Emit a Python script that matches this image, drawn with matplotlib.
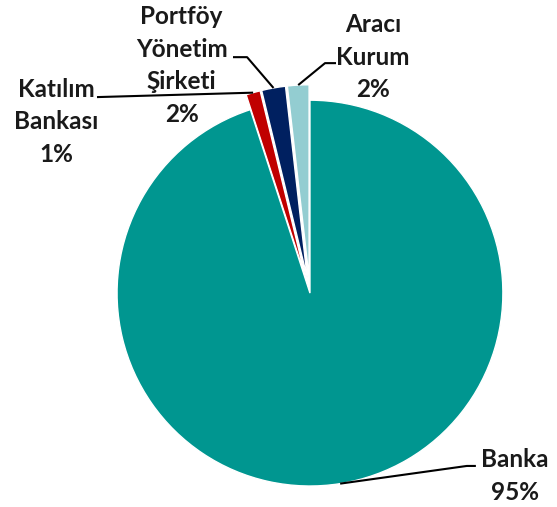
import matplotlib
matplotlib.use("Agg")
import matplotlib.pyplot as plt
import numpy as np

# pay dagilimi
labels = ["Aracı\nKurum", "Portföy\nYönetim\nŞirketi", "Katılım\nBankası", "Banka"]
values = [1.8, 2.0, 1.2, 95.0]
pct_text = ["2%", "2%", "1%", "95%"]
colors = ["#93CDD1", "#002060", "#C00000", "#009690"]
explode = [0.08, 0.08, 0.08, 0.0]

# etiket yerleri (veri koordinatlari) ve kirilma noktalari
text_pos = [(0.326, 1.223), (-0.665, 1.179), (-1.315, 0.889), (1.062, -0.948)]
knees = [[(0.078, 1.192), (0.135, 1.192)],
         [(-0.326, 1.223), (-0.399, 1.223)],
         [(-1.104, 1.016)],
         [(0.813, -0.896), (0.860, -0.896)]]

plt.rcParams["font.family"] = ["Lato", "DejaVu Sans"]

fig = plt.figure(figsize=(5.57, 5.07), dpi=100)
ax = fig.add_axes([0.210, 0.0414, 0.693, 0.761])

wedges, _ = ax.pie(values, colors=colors, explode=explode, startangle=90,
                   counterclock=True, radius=1.0,
                   wedgeprops=dict(edgecolor="white", linewidth=1.0))
for w in wedges:
    w.set_clip_on(False)
ax.set_xlim(-1, 1)
ax.set_ylim(-1, 1)
ax.set_aspect("equal")
ax.axis("off")

for i, w in enumerate(wedges):
    mid = np.deg2rad((w.theta1 + w.theta2) / 2)
    r = 1.0 + explode[i]
    tip = (r * np.cos(mid), r * np.sin(mid))
    pts = [tip] + knees[i]
    xs = [p[0] for p in pts]
    ys = [p[1] for p in pts]
    ax.plot(xs, ys, color="black", lw=1.5, clip_on=False,
            solid_capstyle="butt")
    tx, ty = text_pos[i]
    ax.text(tx, ty, labels[i] + "\n" + pct_text[i], ha="center", va="center",
            fontsize=17.5, fontweight="bold", linespacing=1.5, color="#1a1a1a",
            clip_on=False)

fig.savefig("out.png", dpi=100, facecolor="white")
